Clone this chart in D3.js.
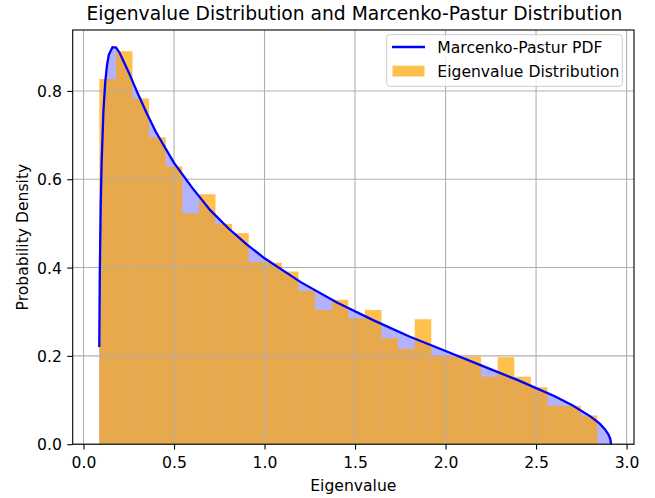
<!DOCTYPE html>
<html>
<head>
<meta charset="utf-8">
<script src="https://cdn.jsdelivr.net/npm/d3@7"></script>
<style>
  body { margin: 0; background: #fff; }
  svg { display: block; font-family: "DejaVu Sans", sans-serif; }
</style>
</head>
<body>
<div id="chart"></div>
<script>
// histogram bin edges (eigenvalue) and densities
const binEdges = [0.0873, 0.1790, 0.2707, 0.3624, 0.4541, 0.5458, 0.6375, 0.7292, 0.8209, 0.9126,
                  1.0043, 1.0960, 1.1877, 1.2794, 1.3711, 1.4628, 1.5545, 1.6462, 1.7379, 1.8296,
                  1.9213, 2.0130, 2.1047, 2.1964, 2.2881, 2.3798, 2.4715, 2.5632, 2.6549, 2.7466, 2.8383];
const binDensity = [0.827, 0.890, 0.783, 0.695, 0.629, 0.523, 0.566, 0.499, 0.478, 0.413,
                    0.411, 0.391, 0.347, 0.304, 0.327, 0.285, 0.304, 0.240, 0.216, 0.283,
                    0.200, 0.198, 0.199, 0.153, 0.197, 0.153, 0.129, 0.087, 0.087, 0.065];

// Marcenko-Pastur curve points
const mpX = [0.0871, 0.090, 0.095, 0.10, 0.11, 0.12, 0.13, 0.14, 0.16, 0.18, 0.20, 0.25, 0.30, 0.35, 0.40,
             0.50, 0.60, 0.70, 0.80, 0.90, 1.0, 1.2, 1.4, 1.6, 1.8, 2.0, 2.2, 2.4, 2.5, 2.6, 2.7, 2.8,
             2.85, 2.88, 2.90, 2.91, 2.914];
const mpY = [0.220, 0.386, 0.540, 0.637, 0.754, 0.820, 0.859, 0.882, 0.899, 0.898, 0.886, 0.842, 0.794, 0.749, 0.707,
             0.637, 0.581, 0.530, 0.489, 0.453, 0.421, 0.367, 0.321, 0.281, 0.244, 0.211, 0.178, 0.145, 0.127, 0.109, 0.088, 0.063,
             0.047, 0.034, 0.022, 0.012, 0.0];

const xTicks = [0, 0.5, 1.0, 1.5, 2.0, 2.5, 3.0];
const yTicks = [0, 0.2, 0.4, 0.6, 0.8];

const W = 655, H = 498;
const plotL = 72.7, plotR = 634, plotT = 30, plotB = 444.2;
const fs = 15.6;

const svg = d3.select("#chart").append("svg")
    .attr("width", W)
    .attr("height", H);

const x = d3.scaleLinear().domain([-0.0597, 3.041]).range([plotL, plotR]);
const y = d3.scaleLinear().domain([0, 0.938]).range([plotB, plotT]);

const curve = mpX.map((v, i) => [v, mpY[i]]);

// light fill under the curve
svg.append("path")
    .datum(curve)
    .attr("fill", "blue")
    .attr("fill-opacity", 0.3)
    .attr("d", d3.area().x(d => x(d[0])).y0(y(0)).y1(d => y(d[1])));

// histogram bars
svg.append("g")
    .attr("fill", "orange")
    .attr("fill-opacity", 0.7)
    .selectAll("rect")
    .data(binDensity)
    .join("rect")
    .attr("x", (d, i) => x(binEdges[i]))
    .attr("width", (d, i) => x(binEdges[i + 1]) - x(binEdges[i]))
    .attr("y", d => y(d))
    .attr("height", d => y(0) - y(d));

// grid
const grid = svg.append("g").attr("stroke", "#b0b0b0").attr("stroke-width", 1.1);
grid.selectAll(".gx").data(xTicks).join("line").attr("class", "gx")
    .attr("x1", d => x(d)).attr("x2", d => x(d))
    .attr("y1", plotT).attr("y2", plotB);
grid.selectAll(".gy").data(yTicks).join("line").attr("class", "gy")
    .attr("x1", plotL).attr("x2", plotR)
    .attr("y1", d => y(d)).attr("y2", d => y(d));

// curve
svg.append("path")
    .datum(curve)
    .attr("fill", "none")
    .attr("stroke", "blue")
    .attr("stroke-width", 2.3)
    .attr("d", d3.line().x(d => x(d[0])).y(d => y(d[1])));

// axes
const xAxis = svg.append("g")
    .attr("transform", `translate(0,${plotB})`)
    .call(d3.axisBottom(x).tickValues(xTicks).tickFormat(d3.format(".1f")).tickSizeOuter(0).tickSize(5.4));
const yAxis = svg.append("g")
    .attr("transform", `translate(${plotL},0)`)
    .call(d3.axisLeft(y).tickValues(yTicks).tickFormat(d3.format(".1f")).tickSizeOuter(0).tickSize(5.4));
[xAxis, yAxis].forEach(a => {
  a.select(".domain").remove();
  a.selectAll("line").attr("stroke", "#000").attr("stroke-width", 1.1);
  a.selectAll("text").attr("font-size", fs).attr("fill", "#000").attr("font-family", "DejaVu Sans");
});
xAxis.selectAll("text").attr("y", 24).attr("dy", null);
yAxis.selectAll("text").attr("x", -10.8).attr("dy", "0.36em");

svg.append("rect")
    .attr("x", plotL).attr("y", plotT)
    .attr("width", plotR - plotL).attr("height", plotB - plotT)
    .attr("fill", "none").attr("stroke", "#000").attr("stroke-width", 1.1);

// labels
svg.append("text")
    .attr("x", (plotL + plotR) / 2 + 1).attr("y", 20)
    .attr("text-anchor", "middle").attr("font-size", 18.7)
    .text("Eigenvalue Distribution and Marcenko-Pastur Distribution");
svg.append("text")
    .attr("x", (plotL + plotR) / 2).attr("y", 491)
    .attr("text-anchor", "middle").attr("font-size", fs)
    .text("Eigenvalue");
svg.append("text")
    .attr("transform", `translate(27.5,${(plotT + plotB) / 2}) rotate(-90)`)
    .attr("text-anchor", "middle").attr("font-size", fs)
    .text("Probability Density");

// legend
const lg = svg.append("g");
lg.append("rect")
    .attr("x", 386.7).attr("y", 34.7).attr("width", 235.6).attr("height", 51.6)
    .attr("rx", 3).attr("fill", "#fff").attr("fill-opacity", 0.8)
    .attr("stroke", "#cccccc").attr("stroke-width", 1);
lg.append("line")
    .attr("x1", 392).attr("x2", 425).attr("y1", 47).attr("y2", 47)
    .attr("stroke", "blue").attr("stroke-width", 2.3);
lg.append("rect")
    .attr("x", 392.5).attr("y", 65.7).attr("width", 32).attr("height", 10.8)
    .attr("fill", "orange").attr("fill-opacity", 0.7);
lg.append("text").attr("x", 437.3).attr("y", 52.6).attr("font-size", fs).text("Marcenko-Pastur PDF");
lg.append("text").attr("x", 437.3).attr("y", 77).attr("font-size", fs).text("Eigenvalue Distribution");
</script>
</body>
</html>
